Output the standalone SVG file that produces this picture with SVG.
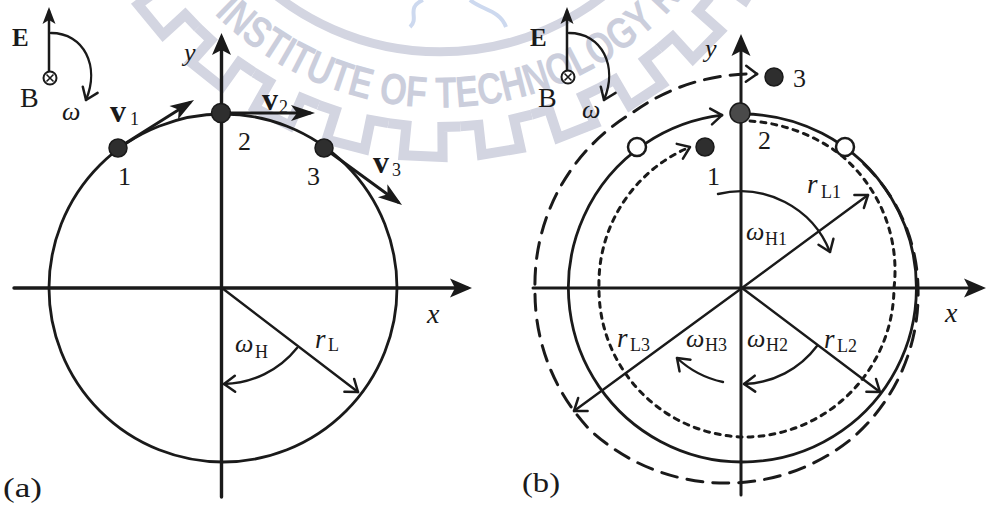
<svg xmlns="http://www.w3.org/2000/svg" xmlns:xlink="http://www.w3.org/1999/xlink" width="987" height="508" viewBox="0 0 987 508">
<style>
.ln{fill:none;stroke:#1a1a1a;stroke-linecap:round}
.ax{stroke-width:3.4}
.cir{stroke-width:2.8}
.thin{stroke-width:2.4}
.t{font-family:"Liberation Serif","DejaVu Serif",serif;fill:#1a1a1a}
.it{font-style:italic}
.bf{font-weight:bold}
.wm{fill:none;stroke:#d3d5e1;stroke-width:10}
.dot{fill:#2e2e2e;stroke:#1a1a1a;stroke-width:1.5}
.open{fill:#fff;stroke:#1a1a1a;stroke-width:2.5}
</style>
<defs>
<marker id="tri" markerUnits="userSpaceOnUse" markerWidth="40" markerHeight="30" viewBox="-30 -15 40 30" refX="-5" refY="0" orient="auto" overflow="visible"><path d="M0 0 L-22 -9.5 L-17 0 L-22 9.5 Z" fill="#1a1a1a"/></marker>
<marker id="triv" markerUnits="userSpaceOnUse" markerWidth="40" markerHeight="30" viewBox="-30 -15 40 30" refX="-5" refY="0" orient="auto" overflow="visible"><path d="M0 0 L-24 -8 L-18 0 L-24 8 Z" fill="#1a1a1a"/></marker>
<marker id="tris" markerUnits="userSpaceOnUse" markerWidth="30" markerHeight="20" viewBox="-20 -10 30 20" refX="-4" refY="0" orient="auto" overflow="visible"><path d="M0 0 L-17 -6.5 L-13 0 L-17 6.5 Z" fill="#1a1a1a"/></marker>
<marker id="chev" markerUnits="userSpaceOnUse" markerWidth="30" markerHeight="30" viewBox="-15 -15 30 30" refX="0" refY="0" orient="auto" overflow="visible"><path d="M-11 -8 L0 0 L-11 8" fill="none" stroke="#1a1a1a" stroke-width="2.5" stroke-linecap="round" stroke-linejoin="round"/></marker>
<path id="tooth" d="M 403.9 125.1 L 422 126.5 L 420.4 156.5 L 459.6 156.5 L 458 126.5 L 476.1 125.1"/>
<path id="wmarc" d="M 214 14 A 320 320 0 0 0 685 -6"/>
</defs>

<g id="watermark">
<g class="wm" stroke-linejoin="miter">
<use xlink:href="#tooth" transform="rotate(-57.4 440 -218)"/>
<use xlink:href="#tooth" transform="rotate(-45.4 440 -218)"/>
<use xlink:href="#tooth" transform="rotate(-33.4 440 -218)"/>
<use xlink:href="#tooth" transform="rotate(-21.4 440 -218)"/>
<use xlink:href="#tooth" transform="rotate(-9.4 440 -218)"/>
<use xlink:href="#tooth" transform="rotate(2.6 440 -218)"/>
<use xlink:href="#tooth" transform="rotate(14.6 440 -218)"/>
<use xlink:href="#tooth" transform="rotate(26.6 440 -218)"/>
<use xlink:href="#tooth" transform="rotate(38.6 440 -218)"/>
<use xlink:href="#tooth" transform="rotate(50.6 440 -218)"/>
<use xlink:href="#tooth" transform="rotate(62.6 440 -218)"/>
<path d="M 250 -28 A 266 266 0 0 0 630 -28" stroke-width="9"/>
</g>
<path d="M 423 0 C 405 8, 420 18, 410 27 M 470 0 C 482 10, 500 10, 506 27" fill="none" stroke="#cdd9ef" stroke-width="4"/>
<text font-family="'Liberation Sans','DejaVu Sans',sans-serif" font-weight="bold" font-size="44" fill="#cbcedc"><textPath xlink:href="#wmarc" textLength="525" lengthAdjust="spacingAndGlyphs">INSTITUTE OF TECHNOLOGY R</textPath></text>
</g>

<g id="panel-a">
<g id="a-connectors">
<circle class="ln cir" cx="223" cy="288" r="174"/>
<line class="ln ax" x1="221.5" y1="497" x2="221.5" y2="38" marker-end="url(#tri)" stroke-linecap="butt"/>
<line class="ln ax" x1="14" y1="288" x2="467" y2="288" marker-end="url(#tri)" stroke-linecap="butt"/>
<line class="ln" stroke-width="3" x1="118" y1="148" x2="189.8" y2="102.7" marker-end="url(#triv)" stroke-linecap="butt"/>
<line class="ln" stroke-width="3" x1="221" y1="113" x2="310" y2="113" marker-end="url(#triv)" stroke-linecap="butt"/>
<line class="ln" stroke-width="3" x1="324" y1="148" x2="398" y2="202" marker-end="url(#triv)" stroke-linecap="butt"/>
<line class="ln thin" x1="222" y1="288" x2="358" y2="392" marker-end="url(#chev)"/>
<path class="ln thin" d="M 297 348 A 96 96 0 0 1 224 384" marker-end="url(#chev)"/>
</g>
<g id="a-field">
<line class="ln" stroke-width="2.5" x1="49" y1="71" x2="49" y2="11" marker-end="url(#tris)" stroke-linecap="butt"/>
<circle cx="50" cy="78" r="6.5" fill="#fff" stroke="#1a1a1a" stroke-width="2"/>
<path d="M 46.5 74.5 L 53.5 81.5 M 53.5 74.5 L 46.5 81.5" stroke="#1a1a1a" stroke-width="1.6"/>
<path class="ln thin" d="M 51 33 C 84 33, 100 66, 86 100" marker-end="url(#chev)"/>
<text class="t bf" x="12" y="46" font-size="25">E</text>
<text class="t" x="20" y="107" font-size="28">B</text>
<text class="t it" x="62" y="120" font-size="26">ω</text>
</g>
<g id="a-p1"><circle class="dot" cx="118" cy="148" r="9"/><text class="t" x="118" y="185" font-size="26">1</text></g>
<g id="a-p2"><circle class="dot" cx="221" cy="113" r="9.5"/><text class="t" x="238" y="150" font-size="26">2</text></g>
<g id="a-p3"><circle class="dot" cx="324" cy="148" r="9"/><text class="t" x="307" y="185" font-size="26">3</text></g>
<g id="a-labels">
<text class="t it" x="184" y="61" font-size="26">y</text>
<text class="t it" x="427" y="323" font-size="28">x</text>
<text class="t bf" x="110" y="122" font-size="32">v</text><text class="t" x="130" y="125" font-size="18">1</text>
<text class="t bf" x="262" y="110" font-size="32">v</text><text class="t" x="279" y="113" font-size="18">2</text>
<text class="t bf" x="373" y="173" font-size="32">v</text><text class="t" x="392" y="176" font-size="18">3</text>
<text class="t it" x="235" y="352" font-size="26">ω</text><text class="t" x="255" y="358" font-size="18">H</text>
<text class="t it" x="315" y="348" font-size="27">r</text><text class="t" x="328" y="351" font-size="18">L</text>
<text class="t" x="3" y="497" font-size="28" textLength="39" lengthAdjust="spacingAndGlyphs">(a)</text>
</g>
</g>

<g id="panel-b">
<g id="b-connectors">
<line class="ln" stroke-width="3" x1="741" y1="495" x2="741" y2="39" marker-end="url(#tri)" stroke-linecap="butt"/>
<line class="ln" stroke-width="3" x1="533" y1="288" x2="981" y2="288" marker-end="url(#tri)" stroke-linecap="butt"/>
<path class="ln cir" d="M 742 114 A 174 174 0 1 1 722 115.2" marker-end="url(#chev)"/>
<path class="ln" stroke-width="3" stroke-dasharray="5 6" stroke-linecap="butt" d="M 750 121 A 170 170 0 0 1 837 152 A 150 150 0 0 1 894 288 A 150 150 0 0 1 745 437 A 148 148 0 0 1 599 288 A 148 148 0 0 1 690 147" marker-end="url(#chev)"/>
<path class="ln" stroke-width="3" stroke-dasharray="16 10" stroke-linecap="butt" d="M 864 164 A 176 176 0 0 1 918 288 A 190 190 0 0 1 850 440 A 198 198 0 0 1 730 483 A 200 200 0 0 1 590 430 A 200 200 0 0 1 535 290 A 200 200 0 0 1 632 113 A 205 205 0 0 1 757 74" marker-end="url(#chev)"/>
<line class="ln thin" x1="742" y1="288" x2="868" y2="195" marker-end="url(#chev)"/>
<path class="ln thin" d="M 718 194 A 96 96 0 0 1 830 252" marker-end="url(#chev)"/>
<line class="ln thin" x1="742" y1="288" x2="880" y2="392" marker-end="url(#chev)"/>
<path class="ln thin" d="M 817 346 A 95 95 0 0 1 744 384" marker-end="url(#chev)"/>
<line class="ln thin" x1="742" y1="288" x2="574" y2="411" marker-end="url(#chev)"/>
<path class="ln thin" d="M 723 382 A 96 96 0 0 1 677 358" marker-end="url(#chev)"/>
</g>
<g id="b-field">
<line class="ln" stroke-width="2.5" x1="567" y1="70" x2="567" y2="11" marker-end="url(#tris)" stroke-linecap="butt"/>
<circle cx="568" cy="77" r="6.5" fill="#fff" stroke="#1a1a1a" stroke-width="2"/>
<path d="M 564.5 73.5 L 571.5 80.5 M 571.5 73.5 L 564.5 80.5" stroke="#1a1a1a" stroke-width="1.6"/>
<path class="ln thin" d="M 569 33 C 602 33, 618 66, 604 100" marker-end="url(#chev)"/>
<text class="t bf" x="530" y="46" font-size="25">E</text>
<text class="t" x="538" y="107" font-size="28">B</text>
<text class="t it" x="582" y="118" font-size="26">ω</text>
</g>
<g id="b-open-left"><circle class="open" cx="637" cy="147" r="9"/></g>
<g id="b-open-right"><circle class="open" cx="845" cy="147" r="9"/></g>
<g id="b-p1"><circle class="dot" cx="705" cy="147" r="9" fill="#3a3a3a"/><text class="t" x="707" y="185" font-size="26">1</text></g>
<g id="b-p2"><circle class="dot" cx="740" cy="113" r="10" style="fill:#4a4a4a"/><text class="t" x="758" y="149" font-size="26">2</text></g>
<g id="b-p3"><circle class="dot" cx="774" cy="77" r="9"/><text class="t" x="793" y="87" font-size="26">3</text></g>
<g id="b-labels">
<text class="t it" x="705" y="57" font-size="26">y</text>
<text class="t it" x="945" y="322" font-size="28">x</text>
<text class="t it" x="807" y="193" font-size="27">r</text><text class="t" x="821" y="198" font-size="18">L1</text>
<text class="t it" x="746" y="240" font-size="26">ω</text><text class="t" x="765" y="245" font-size="18">H1</text>
<text class="t it" x="617" y="347" font-size="27">r</text><text class="t" x="630" y="351" font-size="18">L3</text>
<text class="t it" x="686" y="347" font-size="26">ω</text><text class="t" x="705" y="351" font-size="18">H3</text>
<text class="t it" x="747" y="347" font-size="26">ω</text><text class="t" x="766" y="351" font-size="18">H2</text>
<text class="t it" x="824" y="348" font-size="27">r</text><text class="t" x="837" y="352" font-size="18">L2</text>
<text class="t" x="522" y="492" font-size="28" textLength="38" lengthAdjust="spacingAndGlyphs">(b)</text>
</g>
</g>
</svg>
